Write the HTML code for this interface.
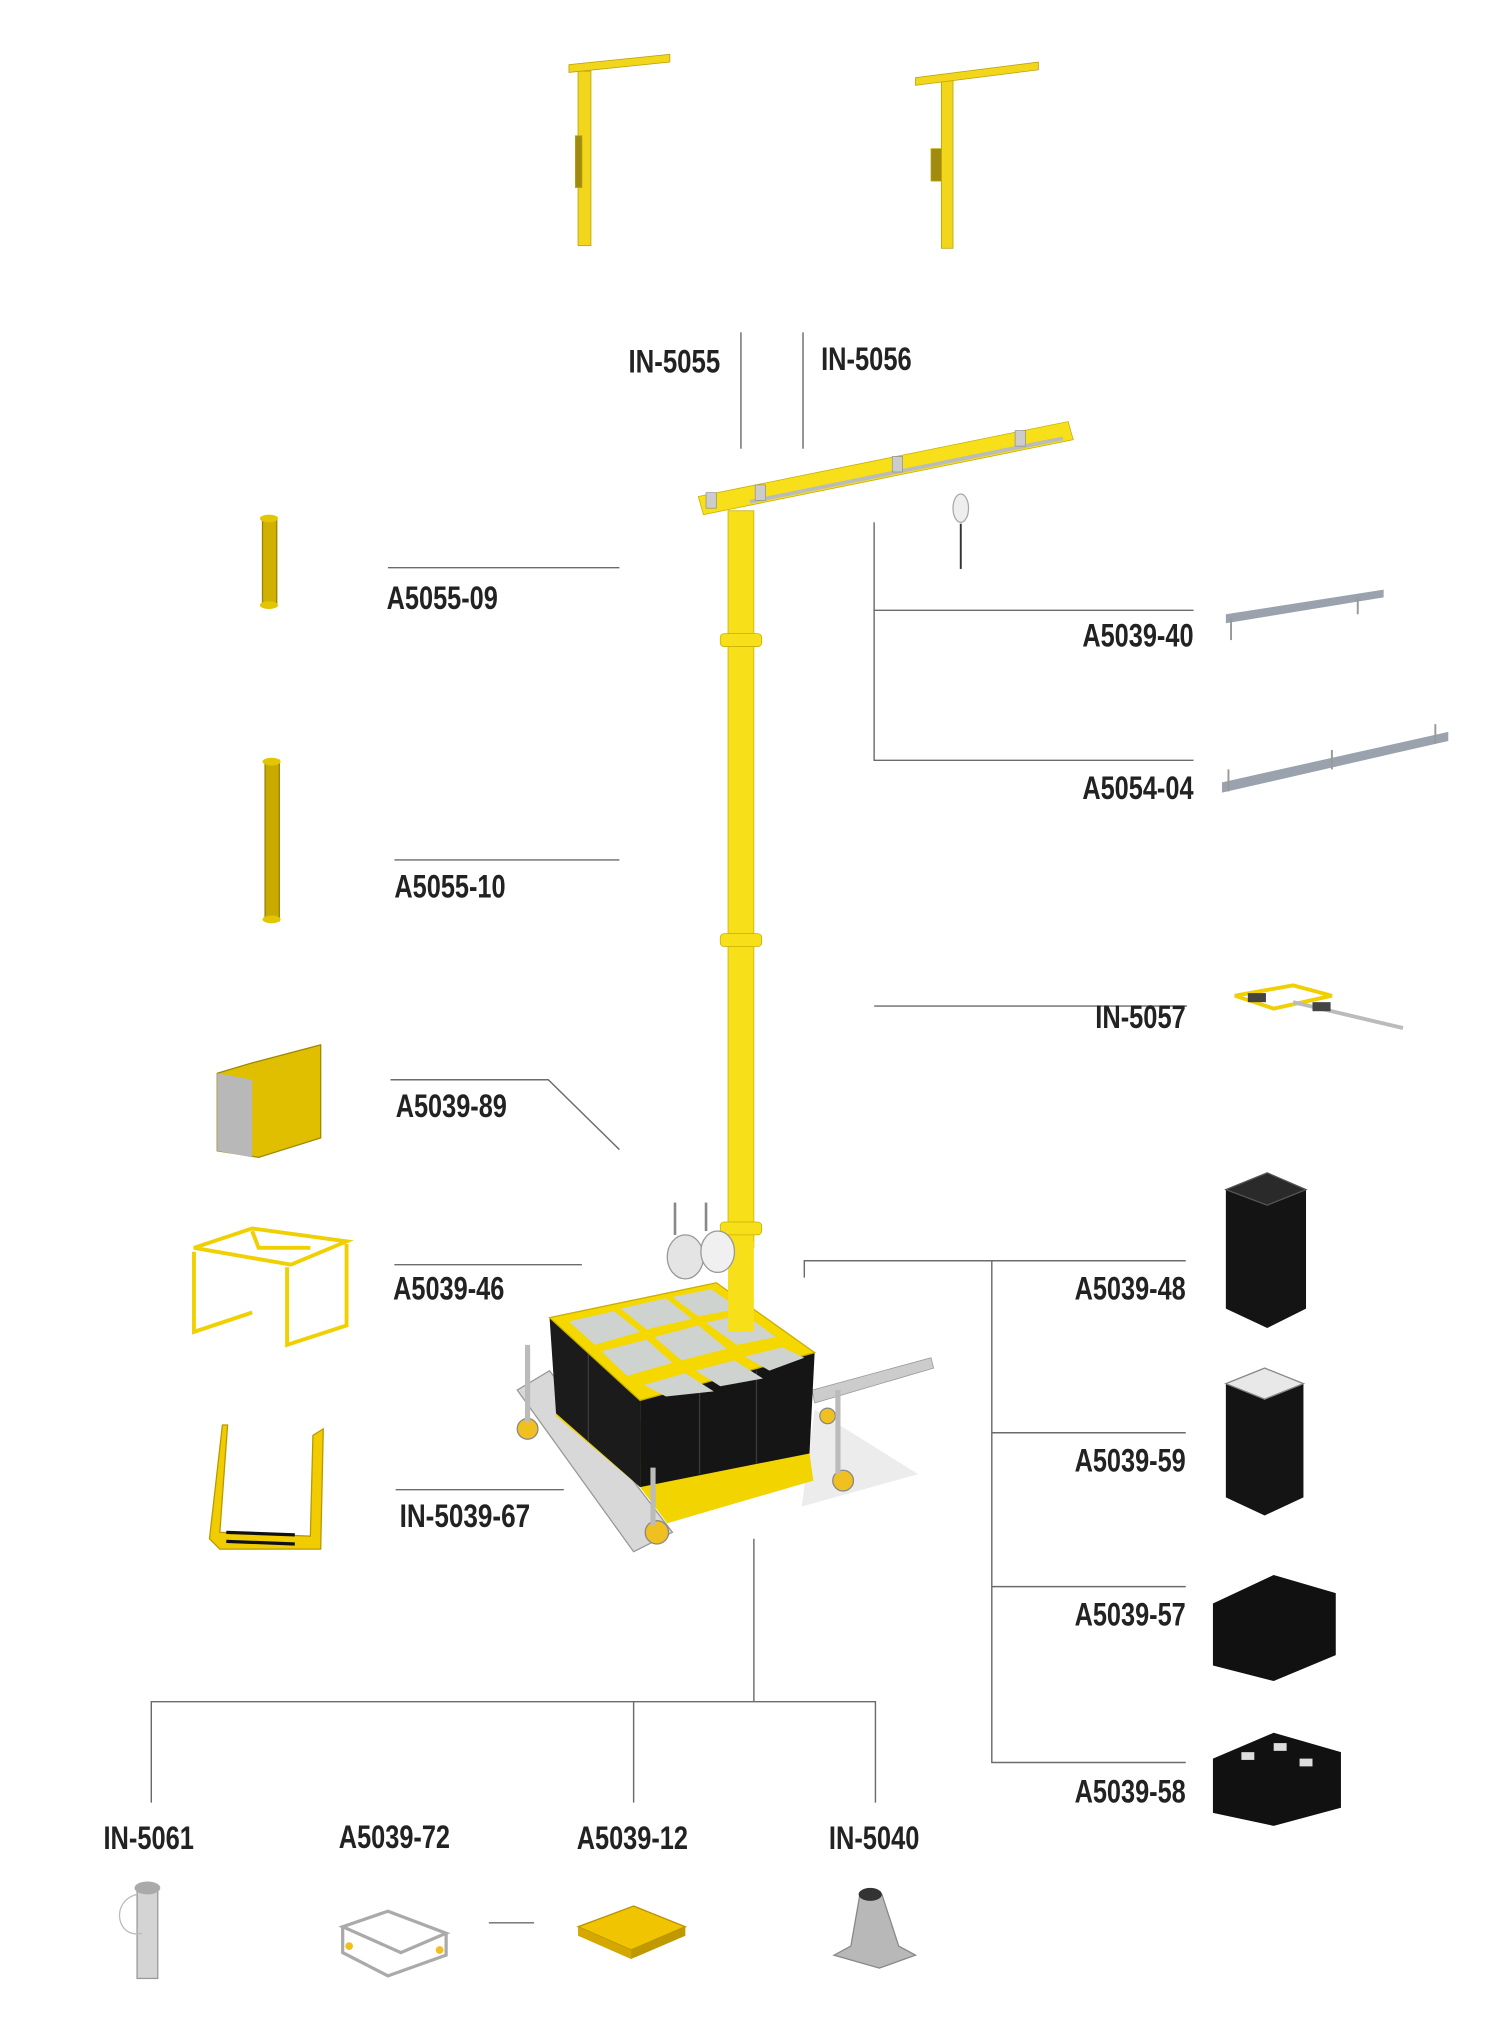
<!DOCTYPE html>
<html><head><meta charset="utf-8"><style>
html,body{margin:0;padding:0;background:#fff;}
svg{display:block;}
text{font-family:"Liberation Sans Narrow","Liberation Sans",sans-serif;font-weight:bold;fill:#222;font-size:25px;}
</style></head><body>
<svg width="1500" height="2017" viewBox="0 0 1500 2017" xmlns="http://www.w3.org/2000/svg">
<g transform="scale(1.2931)">
<g stroke="#6b6b6b" stroke-width="1.1" fill="none">
<line x1="573" y1="257" x2="573" y2="347"/>
<line x1="621" y1="257" x2="621" y2="347"/>
<line x1="300" y1="439" x2="479" y2="439"/>
<line x1="305" y1="665" x2="479" y2="665"/>
<polyline points="923,472 676,472 676,404"/>
<polyline points="676,472 676,588 923,588"/>
<line x1="676" y1="778" x2="918" y2="778"/>
<polyline points="302,835 424,835 479,889"/>
<line x1="305" y1="978" x2="450" y2="978"/>
<line x1="306" y1="1152" x2="436" y2="1152"/>
<polyline points="622,988 622,975 917,975"/>
<polyline points="767,975 767,1363 917,1363"/>
<line x1="767" y1="1108" x2="917" y2="1108"/>
<line x1="767" y1="1227" x2="917" y2="1227"/>
<line x1="583" y1="1190" x2="583" y2="1316"/>
<polyline points="117,1394 117,1316 677,1316 677,1394"/>
<line x1="490" y1="1316" x2="490" y2="1394"/>
<line x1="378" y1="1487" x2="413" y2="1487"/>
</g>
<text x="486" y="288" textLength="71" lengthAdjust="spacingAndGlyphs">IN-5055</text>
<text x="635" y="286" textLength="70" lengthAdjust="spacingAndGlyphs">IN-5056</text>
<text x="299" y="471" textLength="86" lengthAdjust="spacingAndGlyphs">A5055-09</text>
<text x="837" y="500" textLength="86" lengthAdjust="spacingAndGlyphs">A5039-40</text>
<text x="837" y="618" textLength="86" lengthAdjust="spacingAndGlyphs">A5054-04</text>
<text x="305" y="694" textLength="86" lengthAdjust="spacingAndGlyphs">A5055-10</text>
<text x="847" y="795" textLength="70" lengthAdjust="spacingAndGlyphs">IN-5057</text>
<text x="306" y="864" textLength="86" lengthAdjust="spacingAndGlyphs">A5039-89</text>
<text x="304" y="1005" textLength="86" lengthAdjust="spacingAndGlyphs">A5039-46</text>
<text x="831" y="1005" textLength="86" lengthAdjust="spacingAndGlyphs">A5039-48</text>
<text x="831" y="1138" textLength="86" lengthAdjust="spacingAndGlyphs">A5039-59</text>
<text x="309" y="1181" textLength="101" lengthAdjust="spacingAndGlyphs">IN-5039-67</text>
<text x="831" y="1257" textLength="86" lengthAdjust="spacingAndGlyphs">A5039-57</text>
<text x="831" y="1394" textLength="86" lengthAdjust="spacingAndGlyphs">A5039-58</text>
<text x="80" y="1430" textLength="70" lengthAdjust="spacingAndGlyphs">IN-5061</text>
<text x="262" y="1429" textLength="86" lengthAdjust="spacingAndGlyphs">A5039-72</text>
<text x="446" y="1430" textLength="86" lengthAdjust="spacingAndGlyphs">A5039-12</text>
<text x="641" y="1430" textLength="70" lengthAdjust="spacingAndGlyphs">IN-5040</text>

<g fill="#f2d61c" stroke="#b9a000" stroke-width="0.6">
<rect x="447" y="55" width="10" height="135"/>
<polygon points="440,50 518,42 518,48 440,56"/>
<rect x="445" y="105" width="5" height="40" fill="#a08a10"/>
<rect x="728" y="60" width="9" height="132"/>
<polygon points="708,60 803,48 803,54 708,66"/>
<rect x="720" y="115" width="8" height="25" fill="#a08a10"/>
</g>

<g fill="#f7e01a" stroke="#c7b000" stroke-width="0.6">
<rect x="563" y="395" width="20" height="570"/>
<rect x="557" y="490" width="32" height="10" rx="3"/>
<rect x="557" y="722" width="32" height="10" rx="3"/>
<polygon points="540,384 826,326 830,340 544,398"/>
<rect x="557" y="945" width="32" height="10" rx="3"/>
</g>
<line x1="580" y1="388" x2="822" y2="339" stroke="#bbb" stroke-width="3"/>
<g fill="#ccc" stroke="#888" stroke-width="0.5">
<rect x="546" y="381" width="8" height="12"/><rect x="584" y="375" width="8" height="12"/>
<rect x="690" y="353" width="8" height="12"/><rect x="785" y="333" width="8" height="12"/>
</g>
<ellipse cx="743" cy="393" rx="6" ry="11" fill="#eee" stroke="#aaa"/>
<line x1="743" y1="405" x2="743" y2="440" stroke="#333" stroke-width="1.5"/>

<polygon points="400,1075 425,1060 520,1185 490,1200" fill="#d8d8d8" stroke="#999" stroke-width="1"/>
<polygon points="628,1075 720,1050 722,1058 630,1085" fill="#ccc" stroke="#999" stroke-width="0.6"/>
<polygon points="630,1090 710,1140 620,1165" fill="#ececec"/>
<polygon points="430,1095 495,1150 516,1178 629,1145 626,1124 430,1085" fill="#f2d400"/>
<polygon points="425,1019 495,1083 495,1150 430,1093" fill="#1b1b1b"/>
<polygon points="495,1083 630,1046 626,1124 495,1150" fill="#151515"/>
<g stroke="#3a3a3a" stroke-width="1">
<line x1="541" y1="1071" x2="541" y2="1140"/><line x1="585" y1="1060" x2="585" y2="1132"/>
<line x1="455" y1="1045" x2="455" y2="1115"/>
</g>
<polygon points="425,1019 554,992 630,1046 495,1083" fill="#f4d800" stroke="#c9ae00"/>
<g fill="#cfd3cf">
<polygon points="440,1022 475,1014 495,1030 460,1040"/>
<polygon points="480,1012 515,1004 535,1020 500,1028"/>
<polygon points="520,1003 550,997 572,1012 540,1018"/>
<polygon points="465,1045 500,1036 520,1054 485,1064"/>
<polygon points="506,1034 540,1025 562,1043 527,1052"/>
<polygon points="546,1023 575,1016 600,1034 570,1040"/>
<polygon points="498,1071 530,1062 552,1076 515,1080"/>
<polygon points="538,1060 568,1052 590,1066 557,1072"/>
<polygon points="576,1049 605,1042 622,1050 595,1060"/>
</g>
<rect x="563" y="960" width="20" height="70" fill="#f7e01a"/>
<ellipse cx="530" cy="972" rx="14" ry="17" fill="#e4e4e4" stroke="#999"/>
<ellipse cx="555" cy="968" rx="13" ry="16" fill="#f0f0f0" stroke="#999"/>
<line x1="522" y1="930" x2="522" y2="955" stroke="#888" stroke-width="2"/>
<line x1="546" y1="930" x2="546" y2="952" stroke="#888" stroke-width="2"/>
<g fill="#f0c020" stroke="#888" stroke-width="1">
<circle cx="408" cy="1105" r="8"/><circle cx="508" cy="1185" r="9"/>
<circle cx="652" cy="1145" r="8"/><circle cx="640" cy="1095" r="6"/>
</g>
<line x1="408" y1="1040" x2="408" y2="1100" stroke="#bbb" stroke-width="4"/>
<line x1="648" y1="1075" x2="648" y2="1140" stroke="#bbb" stroke-width="4"/>
<line x1="505" y1="1135" x2="505" y2="1180" stroke="#bbb" stroke-width="4"/>

<rect x="203" y="400" width="11" height="68" fill="#d0b000" stroke="#9a8200"/>
<ellipse cx="208" cy="401" rx="7" ry="3" fill="#e3c600"/><ellipse cx="208" cy="468" rx="7" ry="3" fill="#e3c600"/>
<rect x="205" y="588" width="11" height="124" fill="#c9aa00" stroke="#9a8200"/>
<ellipse cx="210" cy="589" rx="7" ry="3" fill="#e3c600"/><ellipse cx="210" cy="711" rx="7" ry="3" fill="#e3c600"/>
<polygon points="168,830 195,822 248,808 248,880 200,895 168,890" fill="#e0bf00" stroke="#a08800"/>
<polygon points="168,830 195,835 195,895 168,890" fill="#b8b8b8"/>
<g fill="none" stroke="#f0d000" stroke-width="3">
<polygon points="150,965 195,950 268,960 225,978"/>
<polyline points="150,968 150,1030 195,1015"/>
<polyline points="222,980 222,1040 268,1025 268,962"/>
<polyline points="195,952 200,965 240,965"/>
</g>
<g fill="#f0cc00" stroke="#b89a00">
<polygon points="162,1190 172,1102 176,1102 170,1185 240,1188 242,1110 250,1105 248,1198 170,1198"/>
</g>
<g stroke="#111" stroke-width="2.5"><line x1="175" y1="1185" x2="228" y2="1187"/><line x1="175" y1="1192" x2="228" y2="1194"/></g>

<polygon points="948,475 1070,456 1070,462 948,482" fill="#9aa3ad"/>
<g stroke="#999" stroke-width="1.5"><line x1="952" y1="478" x2="952" y2="495"/><line x1="1050" y1="462" x2="1050" y2="475"/></g>
<polygon points="945,605 1120,566 1120,573 945,613" fill="#9aa3ad"/>
<g stroke="#999" stroke-width="1.5"><line x1="950" y1="595" x2="950" y2="612"/><line x1="1030" y1="580" x2="1030" y2="595"/><line x1="1110" y1="560" x2="1110" y2="575"/></g>
<polygon points="955,770 1000,762 1030,770 985,780" fill="none" stroke="#f0d000" stroke-width="3"/>
<line x1="1000" y1="775" x2="1085" y2="795" stroke="#bbb" stroke-width="3"/>
<rect x="965" y="768" width="14" height="7" fill="#444"/><rect x="1015" y="775" width="14" height="7" fill="#444"/>
<polygon points="948,920 980,907 1010,920 1010,1012 980,1027 948,1012" fill="#141414"/>
<polygon points="948,920 980,907 1010,920 980,932" fill="#2a2a2a" stroke="#555"/>
<polygon points="948,1070 978,1058 1008,1070 1008,1158 978,1172 948,1158" fill="#141414"/>
<polygon points="948,1070 978,1058 1008,1070 978,1082" fill="#e8e8e8" stroke="#888"/>
<polygon points="938,1240 985,1218 1033,1232 1033,1280 985,1300 938,1288" fill="#111"/>
<polygon points="938,1360 985,1340 1037,1355 1037,1398 985,1412 938,1402" fill="#111"/>
<g fill="#ddd"><rect x="960" y="1355" width="10" height="6"/><rect x="985" y="1348" width="10" height="6"/><rect x="1005" y="1360" width="10" height="6"/></g>

<rect x="106" y="1460" width="16" height="70" fill="#d4d4d4" stroke="#999"/>
<ellipse cx="114" cy="1460" rx="10" ry="5" fill="#aaa"/>
<path d="M106,1465 C85,1470 90,1500 110,1495" fill="none" stroke="#bbb"/>
<g fill="none" stroke="#aaa" stroke-width="2.5">
<polygon points="265,1490 300,1478 345,1495 310,1510"/>
<polyline points="265,1490 265,1510 300,1528 345,1512 345,1495"/>
</g>
<circle cx="270" cy="1505" r="3" fill="#f0c020"/><circle cx="340" cy="1508" r="3" fill="#f0c020"/>
<polygon points="447,1490 490,1474 530,1490 488,1508" fill="#f0c400" stroke="#b89000"/>
<polygon points="447,1490 488,1508 488,1515 447,1497" fill="#d4a800"/>
<polygon points="488,1508 530,1490 530,1497 488,1515" fill="#c09800"/>
<polygon points="665,1465 682,1465 695,1505 708,1512 680,1522 645,1512 658,1505" fill="#b8b8b8" stroke="#888"/>
<ellipse cx="673" cy="1465" rx="9" ry="5" fill="#333"/>
</g>
</svg>
</body></html>
